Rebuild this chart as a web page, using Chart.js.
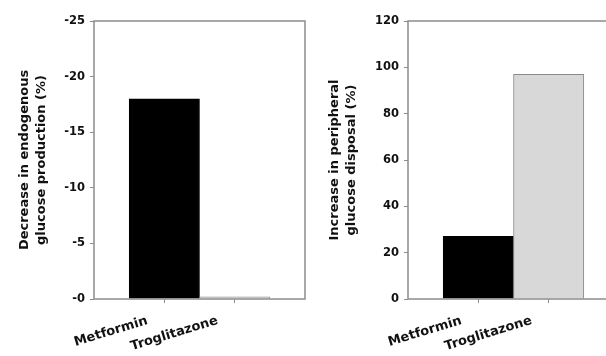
<!DOCTYPE html>
<html>
<head>
   <meta charset="utf-8">
   <script src="https://cdn.jsdelivr.net/npm/chart.js@4.4.1/dist/chart.umd.min.js"></script>
   <title>Metformin vs Troglitazone</title>
   <style>
      html, body { margin: 0; padding: 0; background: #fff; overflow: hidden; }
      #wrap { position: relative; width: 700px; height: 356px; }
      #left-chart { position: absolute; left: 0; top: 0; }
      #right-chart { position: absolute; left: 310px; top: 0; }
   </style>
</head>
<body>
<div id="wrap">
   <canvas id="left-chart" width="310" height="356"></canvas>
   <canvas id="right-chart" width="310" height="356"></canvas>
</div>
<script>
   // data
   const drugs = ['Metformin', 'Troglitazone'];
   const egpDecrease = [-18, -0.2];      // decrease in endogenous glucose production (%)
   const disposalIncrease = [27, 97];    // increase in peripheral glucose disposal (%)
   const barColors = ['#000000', '#d8d8d8'];
   const barBorders = ['#000000', '#8a8a8a'];

   Chart.defaults.font.family = 'DejaVu Sans';
   Chart.defaults.color = '#111';

   // gray box round the plot area
   const frame = {
      id: 'frame',
      afterDatasetsDraw(chart) {
         const a = chart.chartArea;
         const ctx = chart.ctx;
         ctx.save();
         ctx.strokeStyle = '#8c8c8c';
         ctx.lineWidth = 1.5;
         ctx.strokeRect(a.left, a.top, a.right - a.left, a.bottom - a.top);
         ctx.restore();
      }
   };

   function makeChart(id, values, yOpts, titleLines, axisWidth, rightPad) {
      const points = values.map((v, i) => ({ x: i + 1, y: v }));
      return new Chart(document.getElementById(id), {
         type: 'bar',
         data: {
            datasets: [{
               data: points,
               backgroundColor: barColors,
               borderColor: barBorders,
               borderWidth: 1,
               categoryPercentage: 1,
               barPercentage: 1
            }]
         },
         options: {
            responsive: false,
            animation: false,
            layout: { padding: { left: 16, right: rightPad, top: 21, bottom: 0 } },
            plugins: { legend: { display: false }, tooltip: { enabled: false } },
            scales: {
               x: {
                  type: 'linear',
                  offset: false,
                  min: 0,
                  max: 3,
                  afterBuildTicks: s => { s.ticks = [{ value: 1 }, { value: 2 }]; },
                  afterFit: s => { s.height = 57; },
                  border: { display: false },
                  grid: { offset: false, drawOnChartArea: false, drawTicks: true, tickLength: 4, color: '#8c8c8c' },
                  ticks: {
                     callback: v => drugs[v - 1],
                     minRotation: 17,
                     maxRotation: 17,
                     labelOffset: -17,
                     padding: 10,
                     font: { size: 13, weight: 'bold' },
                     color: '#111'
                  }
               },
               y: Object.assign({
                  afterFit: s => { s.width = axisWidth; },
                  border: { display: false },
                  grid: { drawOnChartArea: false, drawTicks: true, tickLength: 4, color: '#8c8c8c' },
                  title: {
                     display: true,
                     text: titleLines,
                     font: { size: 13, weight: 'bold', lineHeight: 1.3 },
                     color: '#111',
                     padding: 0
                  }
               }, yOpts)
            }
         },
         plugins: [frame]
      });
   }

   makeChart('left-chart', egpDecrease, {
      min: -25, max: 0, reverse: true,
      ticks: { stepSize: 5, padding: 5, font: { size: 11.5, weight: 'bold' },
               callback: v => (v === 0 ? '-0' : v) }
   }, ['Decrease in endogenous', 'glucose production (%)'], 78, 5);

   makeChart('right-chart', disposalIncrease, {
      min: 0, max: 120,
      ticks: { stepSize: 20, padding: 5, font: { size: 11.5, weight: 'bold' } }
   }, ['Increase in peripheral', 'glucose disposal (%)'], 82, 1);
</script>
</body>
</html>
